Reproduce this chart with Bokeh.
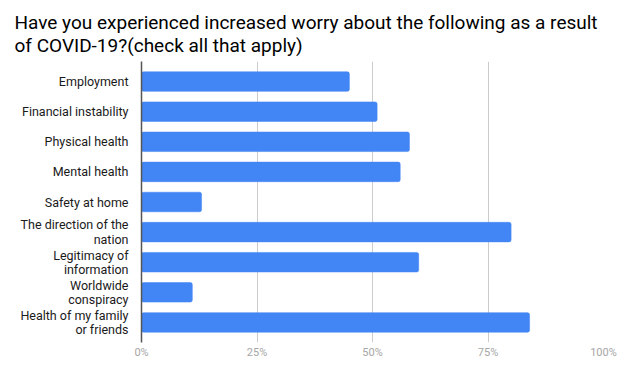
from bokeh.plotting import figure
from bokeh.models import FactorRange, Range1d, NumeralTickFormatter, FixedTicker, Title
from bokeh.embed import file_html
from bokeh.resources import INLINE

categories = [
    "Employment",
    "Financial instability",
    "Physical health",
    "Mental health",
    "Safety at home",
    "The direction of the\nnation",
    "Legitimacy of\ninformation",
    "Worldwide\nconspiracy",
    "Health of my family\nor friends",
]
values = [0.45, 0.51, 0.58, 0.56, 0.13, 0.80, 0.60, 0.11, 0.84]
x_ticks = [0, 0.25, 0.5, 0.75, 1.0]
title_text = "Have you experienced increased worry about the following as a result\nof COVID-19?(check all that apply)"

FONT = "Roboto"

p = figure(
    output_backend="svg",
    toolbar_location=None,
    frame_width=462,
    frame_height=281,
    min_border_left=141,
    min_border_top=61,
    min_border_right=31,
    min_border_bottom=37,
    y_range=FactorRange(factors=list(reversed(categories)), range_padding=0.037),
    x_range=Range1d(0, 1.0),
    title=None,
)

t = Title(text=title_text, text_font=FONT, text_font_size="19px",
          text_font_style="normal", text_color="#000000", align="left",
          offset=-127, text_line_height=1.0, standoff=10)
p.add_layout(t, "above")

p.hbar(y=categories, right=values, left=0, height=0.65,
       fill_color="#4285F4", line_color="#4285F4", line_width=0.5,
       border_radius=2)

p.outline_line_color = None
p.ygrid.grid_line_color = None
p.xgrid.grid_line_color = "#cccccc"
p.xgrid.grid_line_width = 1
p.xaxis.ticker = FixedTicker(ticks=x_ticks)
p.xaxis.formatter = NumeralTickFormatter(format="0%")
p.xaxis.axis_line_color = None
p.xaxis.major_tick_line_color = None
p.xaxis.minor_tick_line_color = None
p.xaxis.major_label_text_color = "#a6a6a6"
p.xaxis.major_label_text_font = FONT
p.xaxis.major_label_text_font_size = "11px"
p.xaxis.major_label_standoff = -3

p.yaxis.axis_line_color = "#555555"
p.yaxis.axis_line_width = 1.5
p.yaxis.major_tick_line_color = None
p.yaxis.minor_tick_line_color = None
p.yaxis.major_label_text_color = "#1a1a1a"
p.yaxis.major_label_text_font = FONT
p.yaxis.major_label_text_font_size = "12.5px"
p.yaxis.major_label_text_line_height = 0.95
p.yaxis.major_label_standoff = 7
p.yaxis.major_label_text_align = "right"

open("out.html", "w").write(file_html(p, INLINE))
